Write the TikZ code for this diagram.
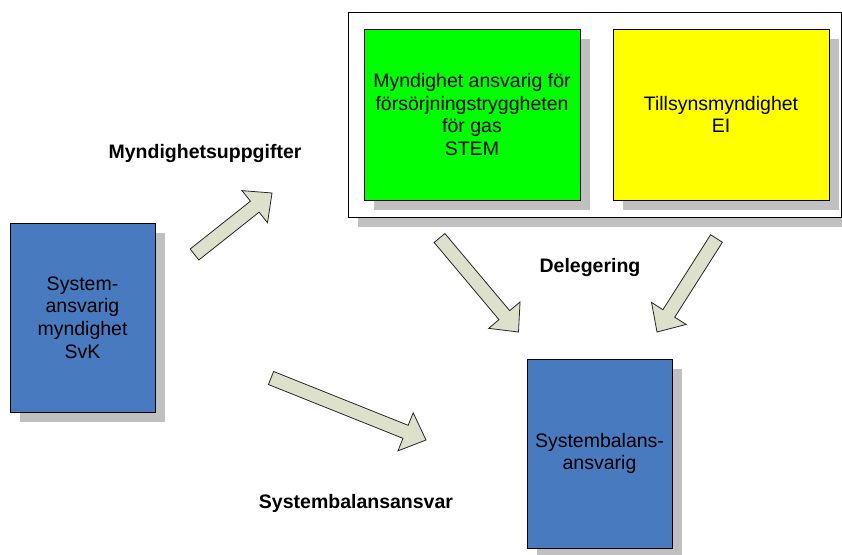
\documentclass[tikz,border=0pt]{standalone}
\usepackage{fontspec}
\setmainfont{Liberation Sans}
\usetikzlibrary{calc,shadows}
\definecolor{boxblue}{RGB}{72,122,192}
\definecolor{boxgreen}{RGB}{0,255,0}
\definecolor{boxyellow}{RGB}{255,255,0}
\definecolor{shadowgray}{RGB}{192,192,192}
\definecolor{arrowfill}{RGB}{221,224,203}
\newcommand{\blockarrow}[2]{%
  \coordinate (#1-base) at ($(#2)!22pt!(#1)$);
  \draw[blockarr] ($(#1)!7pt!90:(#2)$) -- ($(#1-base)!7pt!90:(#2)$)
    -- ($(#1-base)!20.5pt!90:(#2)$) -- (#2)
    -- ($(#1-base)!20.5pt!-90:(#2)$) -- ($(#1-base)!7pt!-90:(#2)$)
    -- ($(#1)!7pt!-90:(#2)$) -- cycle;}
\begin{document}
\begin{tikzpicture}[x=1pt,y=-1pt,
  boxshadow/.style={drop shadow={shadow xshift=10pt,shadow yshift=-10pt,fill=shadowgray,opacity=1}},
  panel/.style={draw=black,line width=0.9pt,rectangle,inner sep=0pt,boxshadow,
    align=center,font=\fontsize{19.5}{22.7}\selectfont},
  lbl/.style={font=\fontsize{19.5}{22.7}\selectfont\bfseries,inner sep=0pt,anchor=base},
  blockarr/.style={draw=black!85,line width=0.8pt,fill=arrowfill,line join=miter}]
\useasboundingbox (0,0) rectangle (842,554);
\fill[white] (0,0) rectangle (842,554);
% group frame
\node[panel,fill=white,minimum width=493pt,minimum height=205pt] (grp) at (594.5,114.5) {};
\node[panel,fill=boxgreen,minimum width=216pt,minimum height=171pt] (stem) at (472,114.5)
  {Myndighet ansvarig för\\försörjningstryggheten\\för gas\\STEM};
\node[panel,fill=boxyellow,minimum width=216pt,minimum height=171pt] (ei) at (721,114.5)
  {Tillsynsmyndighet\\EI};
\node[panel,fill=boxblue,minimum width=145pt,minimum height=189pt] (svk) at (82.5,317.5)
  {System-\\ansvarig\\myndighet\\SvK};
\node[panel,fill=boxblue,minimum width=145pt,minimum height=189pt] (sba) at (599.5,453.5)
  {Systembalans-\\ansvarig};
% labels
\node[lbl] (l1) at (205,158) {Myndighetsuppgifter};
\node[lbl] (l2) at (590,272) {Delegering};
\node[lbl] (l3) at (356,508) {Systembalansansvar};
% block arrows
\coordinate (a1t) at (194.5,254.5); \coordinate (a1h) at (272,193);
\coordinate (a2t) at (439.5,238);   \coordinate (a2h) at (518.5,332);
\coordinate (a3t) at (716.5,238.5); \coordinate (a3h) at (657,332);
\coordinate (a4t) at (271,378);     \coordinate (a4h) at (426,440);
\blockarrow{a1t}{a1h}
\blockarrow{a2t}{a2h}
\blockarrow{a3t}{a3h}
\blockarrow{a4t}{a4h}
\end{tikzpicture}
\end{document}
